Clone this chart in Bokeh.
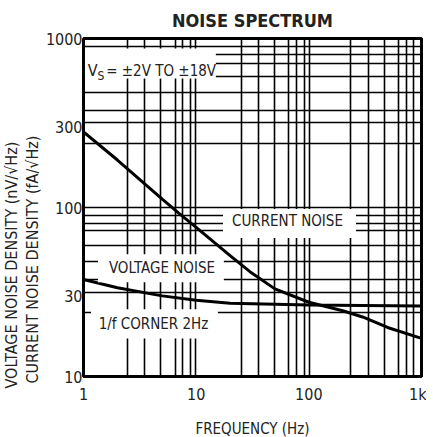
from bokeh.plotting import figure
from bokeh.models import FixedTicker, Label, BoxAnnotation, Title
from bokeh.embed import file_html
from bokeh.resources import INLINE

FONT = "DejaVu Sans Condensed"

# ---- data ----
freq_current = [1, 2, 5, 7, 10, 20, 30, 50, 100, 200, 300, 500, 1000]
current_noise = [280, 191, 112, 92.7, 76.3, 51.9, 41.7, 33.0, 27.5, 24.5, 22.5, 19.5, 16.8]

freq_voltage = [1, 2, 5, 10, 20, 50, 100, 300, 1000]
voltage_noise = [37.5, 33.5, 30.0, 28.3, 27.1, 26.8, 26.5, 26.3, 26.1]

x_ticks = [1, 10, 100, 1000]
x_tick_labels = {1: "1", 10: "10", 100: "100", 1000: "1k"}
y_ticks = [10, 30, 100, 300, 1000]
y_tick_labels = {10: "10", 30: "30", 100: "100", 300: "300", 1000: "1000"}

# grid line positions as drawn in the reference (not exact decades)
x_grid = [2.47, 3.51, 4.80, 6.49, 7.59, 8.87, 9.82,
          25.2, 35.9, 49.3, 66.2, 78.0, 91.0, 100.9,
          236.5, 339.5, 467, 626, 738, 851]
y_grid = [24.0, 31.4, 37.6, 47.9, 59.3, 73.2, 80.9, 89.4, 99.4,
          238, 317, 375, 478, 595, 713, 804, 897]

p = figure(x_axis_type="log", y_axis_type="log",
           x_range=(1, 1000), y_range=(10, 1000),
           frame_width=338, frame_height=338,
           min_border_left=74, min_border_right=5,
           min_border_top=32, min_border_bottom=40,
           output_backend="svg", toolbar_location=None,
           title="NOISE SPECTRUM")

p.title.align = "center"
p.title.text_font = FONT
p.title.text_font_size = "18px"
p.title.text_font_style = "bold"
p.title.text_color = "#222222"
p.title.standoff = 15

p.outline_line_color = "black"
p.outline_line_width = 3
p.outline_line_alpha = 1

for ax in (p.xaxis[0], p.yaxis[0]):
    ax.axis_line_color = None
    ax.major_tick_line_color = None
    ax.minor_tick_line_color = None
    ax.major_tick_out = 0
    ax.major_tick_in = 0
    ax.minor_tick_out = 0
    ax.minor_tick_in = 0
    ax.major_label_text_font = FONT
    ax.major_label_text_font_size = "16px"
    ax.major_label_text_color = "#222222"

p.xaxis.ticker = FixedTicker(ticks=x_ticks)
p.xaxis.major_label_overrides = x_tick_labels
p.xaxis.major_label_standoff = 8
p.xaxis.axis_label = "FREQUENCY (Hz)"
p.xaxis.axis_label_text_font = FONT
p.xaxis.axis_label_text_font_size = "15px"
p.xaxis.axis_label_text_font_style = "normal"
p.xaxis.axis_label_text_color = "#222222"
p.xaxis.axis_label_standoff = 13

p.yaxis.ticker = FixedTicker(ticks=y_ticks)
p.yaxis.major_label_overrides = y_tick_labels
p.yaxis.major_label_standoff = 1

# y-axis title, two lines (inner line added first)
for txt, off in [("CURRENT NOISE DENSITY (fA/\u221aHz)", -7),
                 ("VOLTAGE NOISE DENSITY (nV/\u221aHz)", -12)]:
    t = Title(text=txt, align="left", offset=off, vertical_align="middle",
              text_font=FONT, text_font_size="16px", text_font_style="normal",
              text_color="#222222", standoff=0)
    p.add_layout(t, "left")

p.xgrid.ticker = FixedTicker(ticks=x_grid)
p.ygrid.ticker = FixedTicker(ticks=y_grid)
for g in (p.xgrid[0], p.ygrid[0]):
    g.grid_line_color = "black"
    g.grid_line_width = 1.6
    g.grid_line_alpha = 1

p.background_fill_color = "white"
p.border_fill_color = "white"

# curves
p.line(freq_current, current_noise, line_color="black", line_width=3)
p.line(freq_voltage, voltage_noise, line_color="black", line_width=3)

# white label boxes (interrupt the grid)
boxes = [
    (1.031, 14.95, 579, 873),   # V_S
    (17.3, 262, 65.9, 98),      # CURRENT NOISE
    (1.345, 17.6, 36.1, 52.9),  # VOLTAGE NOISE
    (1.166, 15.6, 16.8, 25.0),  # 1/f CORNER
]
for l, r, b, t in boxes:
    p.add_layout(BoxAnnotation(left=l, right=r, bottom=b, top=t,
                               fill_color="white", fill_alpha=1,
                               line_color=None))

def lab(x, y, text, size="15px", align="center", baseline="middle", **kw):
    p.add_layout(Label(x=x, y=y, text=text, text_font=FONT,
                       text_font_size=size, text_align=align,
                       text_baseline=baseline, text_color="#222222", **kw))

lab(1.09, 643, "V", size="16px", align="left", baseline="alphabetic")
lab(1.33, 601, "S", size="12px", align="left", baseline="alphabetic")
lab(1.59, 643, "= \u00b12V TO \u00b118V", size="15px", align="left", baseline="alphabetic")
lab(64.6, 83.2, "CURRENT NOISE")
lab(4.97, 43.8, "VOLTAGE NOISE")
lab(4.18, 20.4, "1/f CORNER 2Hz")

open("out.html", "w").write(file_html(p, INLINE))
